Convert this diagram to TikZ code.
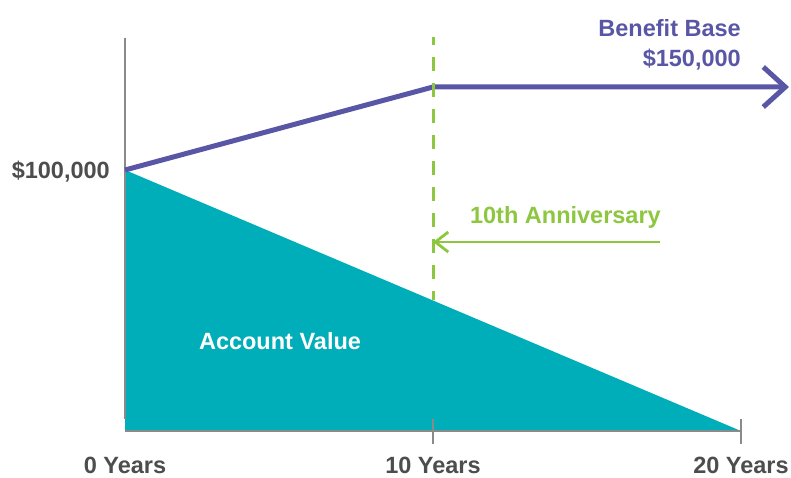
\documentclass[tikz,border=0pt]{standalone}
\usepackage{fontspec}
\setmainfont{Liberation Sans}
\usetikzlibrary{arrows.meta}
\definecolor{basepurple}{HTML}{5A56A6}
\definecolor{acctteal}{HTML}{00AEB9}
\definecolor{annivgreen}{HTML}{8DC63F}
\definecolor{labelgray}{HTML}{4D4D4D}
\definecolor{axisgray}{HTML}{8A8A8A}
\begin{document}
\begin{tikzpicture}[x=1pt,y=-1pt,
    lbl/.style={font=\bfseries\fontsize{23.5}{28}\selectfont,inner sep=0pt},
    axislbl/.style={lbl,text=labelgray,anchor=base},
    tick/.style={draw=axisgray,line width=1.4pt}]
  \useasboundingbox (0,0) rectangle (791,478);

  % key points
  \coordinate (start) at (125,170);
  \coordinate (yten) at (433,87);
  \coordinate (yend) at (789,87);
  \coordinate (origin) at (125,431);
  \coordinate (ten) at (433,431);
  \coordinate (twenty) at (741,431);
  \coordinate (ytop) at (125,38);
  \coordinate (dashtop) at (433,37);
  \coordinate (dashbot) at (433,300);
  \coordinate (annivfrom) at (660,242);
  \coordinate (annivto) at (433,242);

  % account value
  \fill[acctteal] (start) -- (origin) -- (twenty) -- cycle;
  \node[lbl,text=white,anchor=base] (acct) at (280,349) {Account Value};

  % axes
  \draw[tick] (ytop) -- ([yshift=12]origin);
  \draw[tick] (origin) -- (twenty);
  \draw[tick] ([yshift=-13]ten) -- ([yshift=12]ten);
  \draw[tick] ([yshift=-13]twenty) -- ([yshift=12]twenty);
  \node[axislbl] (l0) at (125,473) {0 Years};
  \node[axislbl] (l10) at (433,473) {10 Years};
  \node[axislbl] (l20) at (741,473) {20 Years};
  \node[lbl,text=labelgray,anchor=base east] (hundred) at (110,179) {\$100,000};

  % benefit base
  \draw[basepurple,line width=5pt,line join=miter,-{Straight Barb[length=22pt,width=40pt]}] (start) -- (yten) -- (yend);
  \node[lbl,text=basepurple,anchor=base east] (bb) at (741,37) {Benefit Base};
  \node[lbl,text=basepurple,anchor=base east] (bbval) at (741,67) {\$150,000};

  % 10th anniversary
  \draw[annivgreen,line width=3pt,dash pattern=on 14pt off 12pt,dash phase=6pt] (dashtop) -- (dashbot);
  \draw[annivgreen,line width=2.8pt,-{Straight Barb[length=13pt,width=20pt]}] (annivfrom) -- (annivto);
  \node[lbl,text=annivgreen,anchor=base east] (anniv) at (661,223) {10th Anniversary};
\end{tikzpicture}
\end{document}
